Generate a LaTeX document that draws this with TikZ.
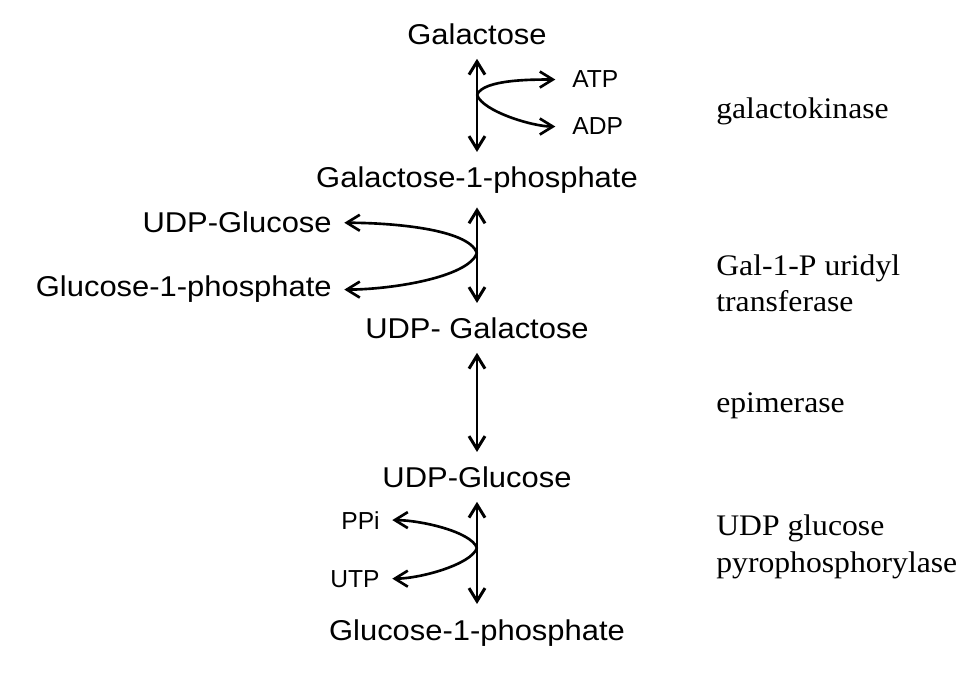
\documentclass[tikz,border=0pt]{standalone}
\usepackage{fontspec}
\setmainfont{Liberation Serif}
\newfontfamily\molfont[FakeStretch=1.08]{Liberation Sans}
\newfontfamily\cofont{Liberation Sans}
\newfontfamily\enzfont[FakeStretch=1.06]{Liberation Serif}
\usetikzlibrary{arrows.meta, positioning}
\tikzset{
  mol/.style={font=\molfont\fontsize{16.3}{19}\selectfont, inner sep=0pt, anchor=base},
  cof/.style={font=\cofont\fontsize{14}{16}\selectfont, inner sep=0pt},
  enz/.style={font=\enzfont\fontsize{17}{21}\selectfont, align=left, inner sep=0pt, anchor=base west},
  rev/.style={{Straight Barb[length=2.6mm,width=3.2mm]}-{Straight Barb[length=2.6mm,width=3.2mm]},
              line width=1.7pt, shorten <=7.5pt, shorten >=8.5pt},
  side/.style={-{Straight Barb[length=2.6mm,width=3.2mm]}, line width=1.5pt, shorten >=7pt},
  branch/.style={out looseness=0.45, in looseness=1},
}
\begin{document}
\begin{tikzpicture}[x=0.02cm, y=-0.02cm]
  \useasboundingbox (0,0) rectangle (974,675);

  %% Main chain of sugars
  \node[mol] (gal) at (477,45) {Galactose};
  \node[mol] (gal1p) at (477,188) {Galactose-1-phosphate};
  \node[mol] (udpgal) at (477,339) {UDP- Galactose};
  \node[mol] (udpglc) at (477,488) {UDP-Glucose};
  \node[mol] (glc1p) at (477,640) {Glucose-1-phosphate};
  \draw[rev] (gal.south) -- (gal1p.north);
  \draw[rev] (gal1p.south) -- (udpgal.north);
  \draw[rev] (udpgal.south) -- (udpglc.north);
  \draw[rev] (udpglc.south) -- (glc1p.north);

  %% Step 1: ATP / ADP
  \coordinate (k1) at (477,95);
  \node[cof, anchor=base west] (atp) at (572,88) {ATP};
  \node[cof, anchor=base west] (adp) at (572,135) {ADP};
  \draw[side, shorten >=9.5pt] (k1) to[out=70, in=180, branch] (atp.west);
  \draw[side, shorten >=9.5pt] (k1) to[out=-70, in=180, branch] (adp.west);

  %% Step 2: UDP-Glucose / Glucose-1-phosphate
  \coordinate (k2) at (477,253);
  \node[mol, anchor=base east] (udpglcl) at (332,233) {UDP-Glucose};
  \node[mol, anchor=base east] (glc1pl) at (332,297) {Glucose-1-phosphate};
  \draw[side] (k2) to[out=110, in=0, branch] (udpglcl.east);
  \draw[side] (k2) to[out=-110, in=0, branch] (glc1pl.east);

  %% Step 4: PPi / UTP
  \coordinate (k4) at (477,548);
  \node[cof, anchor=base east] (ppi) at (380,529) {PPi};
  \node[cof, anchor=base east] (utp) at (380,587) {UTP};
  \draw[side] (k4) to[out=110, in=0, branch] (ppi.east);
  \draw[side] (k4) to[out=-110, in=0, branch] (utp.east);

  %% Enzymes
  \node[enz] (galk) at (716,119) {galactokinase};
  \node[enz] (galt) at (716,312) {Gal-1-P uridyl\\transferase};
  \node[enz] (gale) at (716,413) {epimerase};
  \node[enz] (galu) at (716,572) {UDP glucose\\pyrophosphorylase};

\end{tikzpicture}
\end{document}
